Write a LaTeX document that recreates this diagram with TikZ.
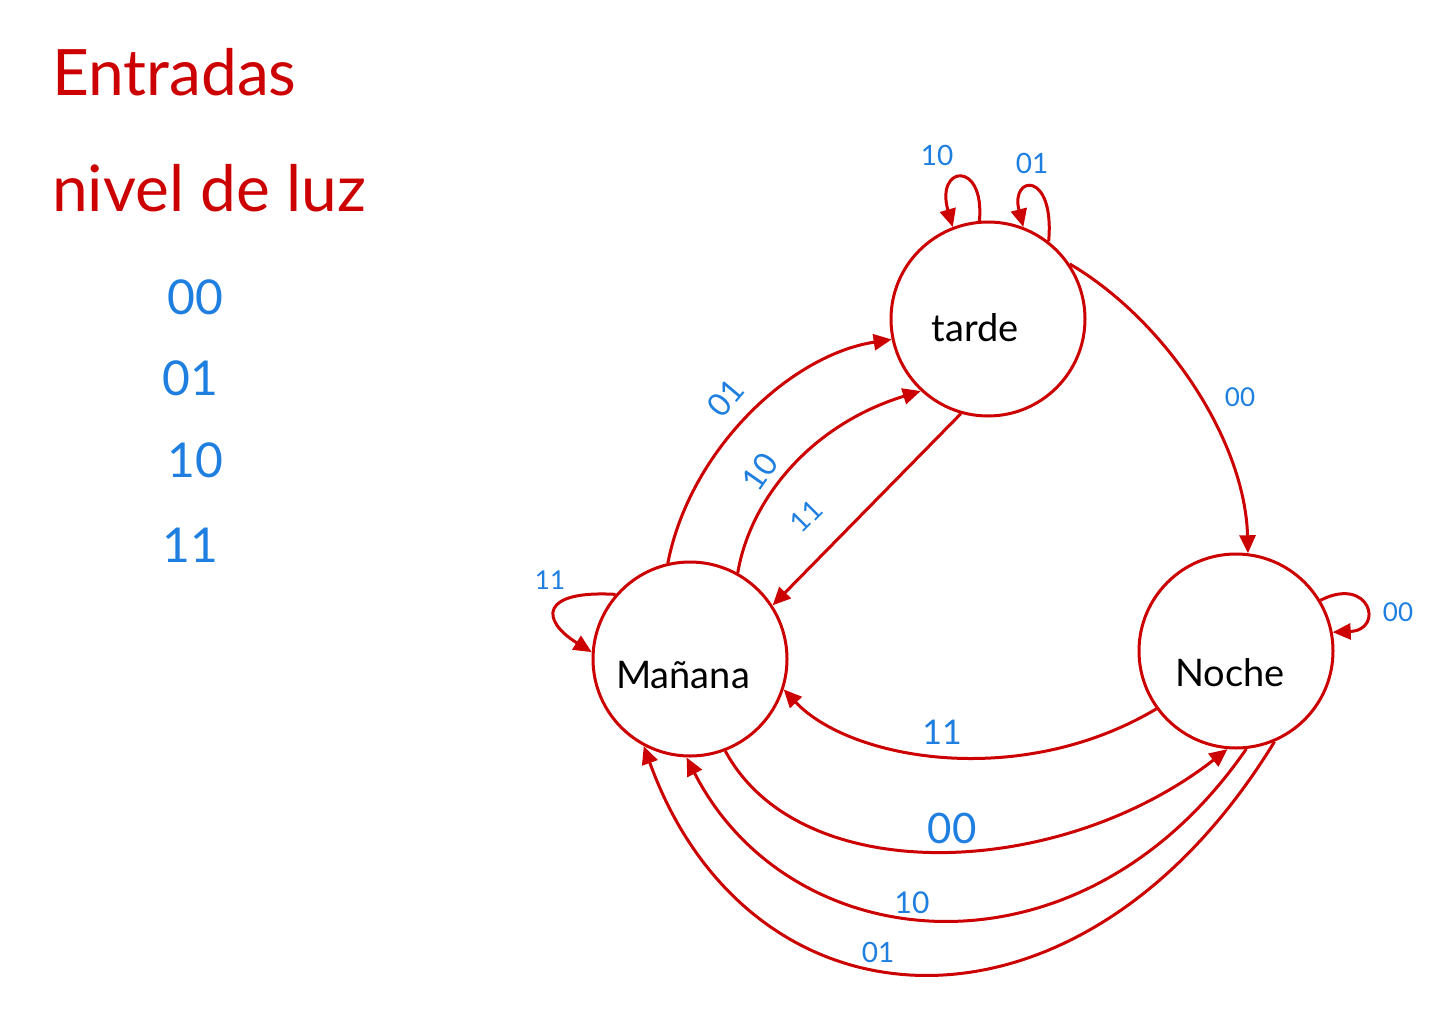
\documentclass[tikz,border=0pt]{standalone}
\usepackage{fontspec}
\setmainfont{Lato}
\usetikzlibrary{arrows.meta}
\definecolor{pen}{RGB}{204,0,0}
\definecolor{ink}{RGB}{30,127,224}
\tikzset{
  state/.style={circle, draw=pen, line width=3pt, minimum size=194pt, inner sep=0pt},
  stname/.style={text=black, inner sep=0pt, font=\fontsize{38}{40}\selectfont},
  edge/.style={draw=pen, line width=3pt, -{Triangle[length=18pt,width=16pt]}},
  lab/.style={text=ink, inner sep=0pt},
  title/.style={text=pen, anchor=west, inner sep=0pt, font=\fontsize{64}{66}\selectfont},
  legend/.style={text=ink, inner sep=0pt, font=\fontsize{48}{50}\selectfont}
}
\begin{document}
\begin{tikzpicture}[x=1pt, y=-1pt]
\useasboundingbox[fill=white] (0,0) rectangle (1436,1017);
% legend
\node[title] (t1) at (52,72) {Entradas};
\node[title] (t2) at (52,188) {nivel de luz};
\node[legend] (l1) at (195,297) {00};
\node[legend] (l2) at (190,378) {01};
\node[legend] (l3) at (195,460) {10};
\node[legend] (l4) at (190,545) {11};
% states
\node[state, label={[stname, xshift=-13pt, yshift=-9pt]center:tarde}] (tar) at (988,319) {};
\node[state, label={[stname, xshift=-7pt, yshift=-16pt]center:Mañana}] (man) at (690,659) {};
\node[state, label={[stname, xshift=-6pt, yshift=-22pt]center:Noche}] (noc) at (1236,651) {};
% edges
\draw[edge] (man.103) .. controls (690,450) and (790,355) .. (tar.192);
\draw[edge] (man.61) .. controls (750,500) and (810,425) .. (tar.227);
\draw[edge] (tar.254) -- (man.33);
\draw[edge] (tar.34) .. controls (1165,320) and (1245,440) .. (noc.83);
\draw[edge] (noc.216) .. controls (1020,790) and (850,760) .. (man.-18);
\draw[edge] (man.-69) .. controls (800,890) and (1060,880) .. (noc.265);
\draw[edge] (noc.276) .. controls (1080,990) and (790,960) .. (man.-92);
\draw[edge] (noc.293) .. controls (1080,1060) and (750,1040) .. (man.-118);
% self loops
\draw[edge] (man.139) .. controls (540,590) and (540,620) .. (man.176);
\draw[edge] (noc.31) .. controls (1370,575) and (1385,630) .. (noc.11);
\draw[edge] (tar.95) .. controls (985,160) and (935,165) .. (tar.111);
\draw[edge] (tar.52) .. controls (1055,170) and (1010,175) .. (tar.69);
% labels
\node[lab, font=\fontsize{28}{30}\selectfont] (a1) at (937,155) {10};
\node[lab, font=\fontsize{28}{30}\selectfont] (a2) at (1032,163) {01};
\node[lab, font=\fontsize{32}{34}\selectfont, rotate=50] (a3) at (726,398) {01};
\node[lab, font=\fontsize{32}{34}\selectfont, rotate=55] (a4) at (760,472) {10};
\node[lab, font=\fontsize{28}{30}\selectfont, rotate=45] (a5) at (806,516) {11};
\node[lab, font=\fontsize{26}{28}\selectfont] (a6) at (1240,397) {00};
\node[lab, font=\fontsize{26}{28}\selectfont] (a7) at (1398,612) {00};
\node[lab, font=\fontsize{26}{28}\selectfont] (a8) at (550,580) {11};
\node[lab, font=\fontsize{34}{36}\selectfont] (a9) at (942,732) {11};
\node[lab, font=\fontsize{42}{44}\selectfont] (a10) at (952,828) {00};
\node[lab, font=\fontsize{30}{32}\selectfont] (a11) at (912,903) {10};
\node[lab, font=\fontsize{28}{30}\selectfont] (a12) at (878,952) {01};
\end{tikzpicture}
\end{document}
